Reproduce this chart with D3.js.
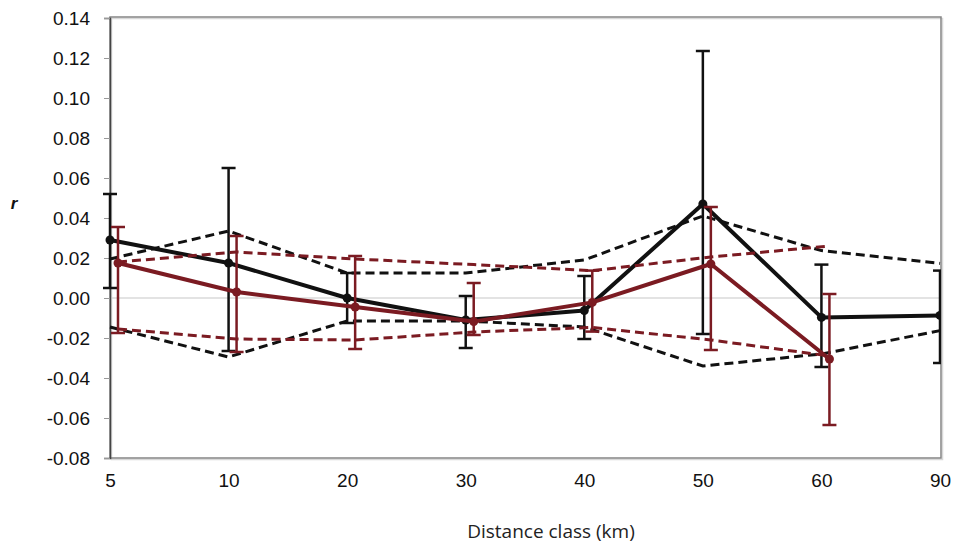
<!DOCTYPE html>
<html>
<head>
<meta charset="utf-8">
<script src="https://cdn.jsdelivr.net/npm/d3@7"></script>
<style>
  body { margin: 0; background: #fff; }
  svg { display: block; }
  .tick text { font-family: "Liberation Sans", Arial, sans-serif; font-size: 19px; fill: #111; }
</style>
</head>
<body>
<script>
// distance classes (km)
const categories = ['5', '10', '20', '30', '40', '50', '60', '90']

// group 1 (black): observed r, error bar ends, permutation envelope
const obs1 = [0.029, 0.0175, 0.0, -0.011, -0.0063, 0.047, -0.0097, -0.0087]
const hi1 = [0.052, 0.065, 0.0125, 0.001, 0.011, 0.1235, 0.0167, 0.0137]
const lo1 = [0.005, -0.0265, -0.0125, -0.025, -0.0205, -0.018, -0.0345, -0.0325]
const upper1 = [0.0195, 0.0335, 0.0125, 0.0125, 0.019, 0.041, 0.0237, 0.0173]
const lower1 = [-0.0145, -0.0295, -0.0115, -0.0115, -0.0145, -0.034, -0.028, -0.0163]

// group 2 (dark red), no 90 km class
const obs2 = [0.0175, 0.003, -0.0045, -0.0118, -0.0022, 0.017, -0.0305]
const hi2 = [0.0355, 0.031, 0.021, 0.0075, 0.0137, 0.0455, 0.002]
const lo2 = [-0.0175, -0.027, -0.0255, -0.0185, -0.0168, -0.026, -0.0635]
const upper2 = [0.018, 0.023, 0.0195, 0.0167, 0.0137, 0.0205, 0.026]
const lower2 = [-0.0155, -0.0205, -0.021, -0.017, -0.0147, -0.021, -0.029]

const yTicks = d3.range(-0.08, 0.1401, 0.02)

const W = 954, H = 545
const mLeft = 110, mRight = 940, mTop = 18, mBottom = 458
const RED = '#7b1b22'

const svg = d3.select('body').append('svg').attr('width', W).attr('height', H)

const x = d3.scalePoint().domain(categories).range([mLeft, mRight])
const y = d3.scaleLinear().domain([-0.08, 0.14]).range([mBottom, mTop])

svg.append('defs').append('clipPath').attr('id', 'plot')
  .append('rect').attr('x', 0).attr('y', 0).attr('width', mRight + 1).attr('height', H)

// zero line
svg.append('line')
  .attr('x1', mLeft).attr('x2', mRight)
  .attr('y1', y(0)).attr('y2', y(0))
  .attr('stroke', '#c8c8c8').attr('stroke-width', 1.2)

// frame with a soft shadow
svg.append('rect')
  .attr('x', mLeft + 1.5).attr('y', mTop + 0.5)
  .attr('width', mRight - mLeft + 1).attr('height', mBottom - mTop + 1)
  .attr('fill', 'none').attr('stroke', '#d8d8d8').attr('stroke-width', 1.5)
svg.append('rect')
  .attr('x', mLeft).attr('y', mTop - 1)
  .attr('width', mRight - mLeft + 1).attr('height', mBottom - mTop + 1)
  .attr('fill', 'none').attr('stroke', '#858585').attr('stroke-width', 1.5)

// y axis, hyphen minus like the original
const fmt = d => (Math.abs(d) < 1e-9 ? 0 : d).toFixed(2)
const yAxis = svg.append('g')
  .attr('transform', `translate(${mLeft},0)`)
  .call(d3.axisLeft(y).tickValues(yTicks).tickFormat(fmt).tickSize(6).tickPadding(14))
yAxis.select('.domain').attr('stroke', '#444').attr('stroke-width', 1.5)
yAxis.selectAll('.tick line').attr('stroke', '#999')

// x axis labels
const xAxis = svg.append('g')
  .attr('transform', `translate(0,${mBottom})`)
  .call(d3.axisBottom(x).tickSize(0).tickPadding(16))
xAxis.select('.domain').remove()

// axis titles
svg.append('text')
  .attr('x', 551).attr('y', 538)
  .attr('text-anchor', 'middle')
  .attr('font-family', '"Open Sans", "DejaVu Sans", sans-serif')
  .attr('font-size', 19).attr('fill', '#222')
  .text('Distance class (km)')
svg.append('text')
  .attr('x', 14).attr('y', 209)
  .attr('text-anchor', 'middle')
  .attr('font-family', '"Liberation Sans", Arial, sans-serif')
  .attr('font-size', 17).attr('font-weight', 'bold').attr('font-style', 'italic')
  .attr('fill', '#111')
  .text('r')

const plot = svg.append('g').attr('clip-path', 'url(#plot)')

function series(obs, hi, lo, up, low, color, dx) {
  const cats = categories.slice(0, obs.length)
  const px = (d, i) => x(cats[i]) + dx
  const line = vals => d3.line().x((d, i) => px(d, i)).y(d => y(d))(vals)

  const g = plot.append('g')
  ;[up, low].forEach(vals => {
    g.append('path')
      .attr('d', line(vals))
      .attr('fill', 'none').attr('stroke', color)
      .attr('stroke-width', 3).attr('stroke-dasharray', '9,5')
  })

  const bars = g.selectAll('g.eb').data(obs).join('g').attr('class', 'eb')
  bars.append('line')
    .attr('x1', px).attr('x2', px)
    .attr('y1', (d, i) => y(hi[i])).attr('y2', (d, i) => y(lo[i]))
    .attr('stroke', color).attr('stroke-width', 2.5)
  ;[hi, lo].forEach(ends => {
    bars.append('line')
      .attr('x1', (d, i) => px(d, i) - 7).attr('x2', (d, i) => px(d, i) + 7)
      .attr('y1', (d, i) => y(ends[i])).attr('y2', (d, i) => y(ends[i]))
      .attr('stroke', color).attr('stroke-width', 2.5)
  })

  g.append('path')
    .attr('d', line(obs))
    .attr('fill', 'none').attr('stroke', color)
    .attr('stroke-width', 4).attr('stroke-linejoin', 'round')

  g.selectAll('circle').data(obs).join('circle')
    .attr('cx', px).attr('cy', d => y(d))
    .attr('r', 4.5).attr('fill', color)
}

series(obs1, hi1, lo1, upper1, lower1, '#111', 0)
series(obs2, hi2, lo2, upper2, lower2, RED, 8)
</script>
</body>
</html>
